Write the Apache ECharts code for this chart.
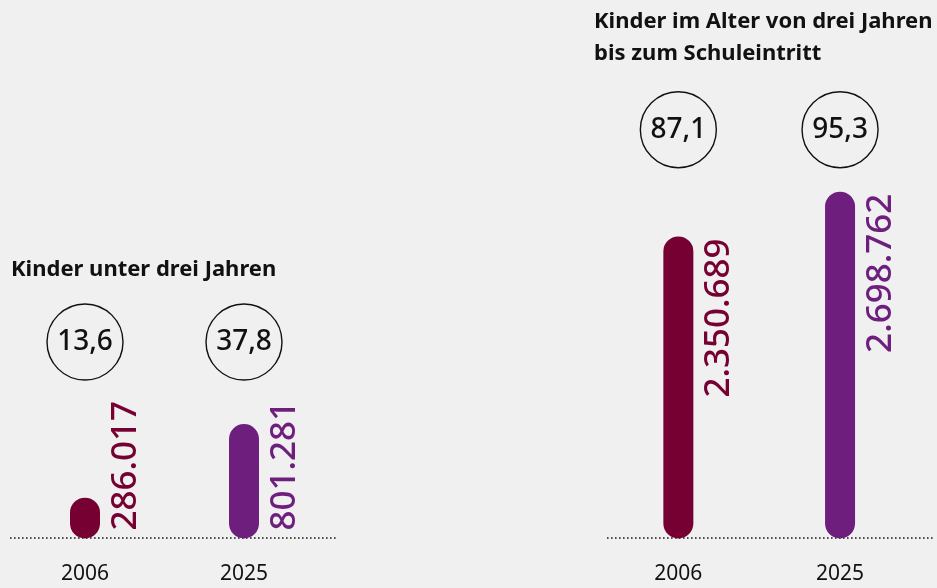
<!DOCTYPE html>
<html>
<head>
<meta charset="utf-8">
<script src="https://cdn.jsdelivr.net/npm/echarts@6/dist/echarts.min.js"></script>
<style>
html,body{margin:0;padding:0;background:#f0f0f0;}
#c{width:937px;height:588px;}
</style>
</head>
<body>
<div id="c"></div>
<script>
// ---- data ----
const categories = ['2006', '2025'];
const under3Values = [286017, 801281];
const under3Rates = [13.6, 37.8];
const over3Values = [2350689, 2698762];
const over3Rates = [87.1, 95.3];
const titleUnder3 = 'Kinder unter drei Jahren';
const titleOver3 = 'Kinder im Alter von drei Jahren\nbis zum Schuleintritt';

// ---- style ----
const FONT = '"Noto Sans", sans-serif';
const barColors = ['#770033', '#6e1f7e'];
const fmtInt = v => String(v).replace(/\B(?=(\d{3})+(?!\d))/g, '.');
const fmtRate = v => v.toFixed(1).replace('.', ',');

function barData(values, anchorBottom) {
  return values.map((v, i) => ({
    value: v,
    itemStyle: { color: barColors[i], borderRadius: 15 },
    label: anchorBottom ? {
      position: ['100%', '100%'], align: 'left', verticalAlign: 'top', offset: [8, 9],
      color: barColors[i]
    } : {
      position: ['100%', 0], align: 'right', verticalAlign: 'top', offset: [-2, 8],
      color: barColors[i]
    }
  }));
}

const circleLabel = (margin) => ({
  show: true,
  margin: margin,
  formatter: v => '{c|' + v + '}',
  rich: {
    c: {
      width: 76, height: 76, lineHeight: 76, align: 'center', verticalAlign: 'middle',
      borderRadius: 38, borderColor: '#111', borderWidth: 1.4,
      fontSize: 28, fontWeight: 500, fontFamily: FONT, color: '#111'
    }
  }
});

const yearAxis = (gi) => ({
  type: 'category', gridIndex: gi, data: categories, position: 'bottom',
  axisLine: { show: false }, axisTick: { show: false },
  axisLabel: { margin: 25, fontSize: 21, fontFamily: FONT, color: '#111' }
});
const rateAxis = (gi, rates, margin) => ({
  type: 'category', gridIndex: gi, data: rates.map(fmtRate), position: 'top',
  axisLine: { show: false }, axisTick: { show: false },
  axisLabel: circleLabel(margin)
});

const valueLabelStyle = {
  show: true, rotate: 90, fontSize: 35, fontWeight: 500, fontFamily: FONT,
  formatter: p => fmtInt(p.value)
};

const titleStyle = { fontSize: 22, fontWeight: 'bold', fontFamily: FONT, color: '#111', lineHeight: 32 };

const option = {
  backgroundColor: '#f0f0f0',
  animation: false,
  title: [
    { text: titleUnder3, left: 11, top: 254, padding: 0, textStyle: titleStyle },
    { text: titleOver3, left: 594, top: 6, padding: 0, textStyle: titleStyle }
  ],
  grid: [
    { left: 5.5, width: 318, top: 424, bottom: 49.5 },
    { left: 597.5, width: 323.4, top: 191.7, bottom: 49.5 }
  ],
  xAxis: [
    yearAxis(0), rateAxis(0, under3Rates, 44),
    yearAxis(1), rateAxis(1, over3Rates, 24)
  ],
  yAxis: [
    { type: 'value', gridIndex: 0, min: 0, max: 'dataMax', show: false },
    { type: 'value', gridIndex: 1, min: 0, max: 'dataMax', show: false }
  ],
  series: [
    { type: 'bar', xAxisIndex: 0, yAxisIndex: 0, barWidth: 30,
      data: barData(under3Values, true), label: valueLabelStyle },
    { type: 'bar', xAxisIndex: 2, yAxisIndex: 1, barWidth: 30,
      data: barData(over3Values, false), label: valueLabelStyle }
  ],
  graphic: [
    { type: 'line', shape: { x1: 10, y1: 538, x2: 338, y2: 538 }, z: 0,
      style: { stroke: '#1a1a1a', lineWidth: 1.6, lineDash: [1.6, 2.4] } },
    { type: 'line', shape: { x1: 607, y1: 538, x2: 933, y2: 538 }, z: 0,
      style: { stroke: '#1a1a1a', lineWidth: 1.6, lineDash: [1.6, 2.4] } }
  ]
};

const chart = echarts.init(document.getElementById('c'), null, { renderer: 'canvas' });
chart.setOption(option);
</script>
</body>
</html>
